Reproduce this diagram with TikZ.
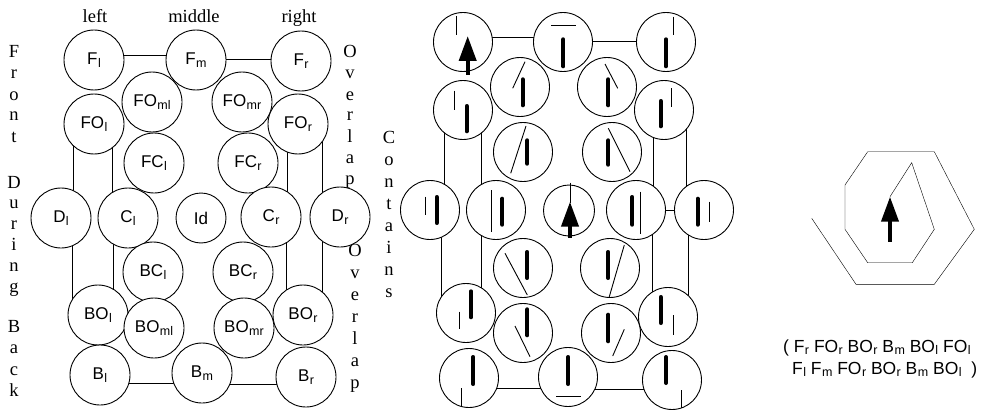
\documentclass[tikz,border=0pt]{standalone}
\usepackage{fontspec}
\setmainfont{Liberation Serif}
\newfontfamily\helv{Liberation Sans}
\usetikzlibrary{arrows.meta,backgrounds}
\newcommand\lsub[1]{\kern.4pt\raisebox{-2.7pt}{\fontsize{12.5}{13}\selectfont#1}}

\begin{document}
\begin{tikzpicture}[x=1pt, y=-1pt, line width=0.9pt,
    area/.style={circle, draw, fill=white, inner sep=0pt, minimum size=60pt,
      font=\helv\fontsize{17}{20}\selectfont},
    cell/.style={circle, draw, fill=white, inner sep=0pt, minimum size=59pt},
    word/.style={anchor=base, inner sep=0pt, font=\fontsize{18.5}{21}\selectfont},
    seq/.style={anchor=base west, inner sep=0pt, font=\helv\fontsize{17.5}{20}\selectfont},
    thinbar/.style={line width=0.9pt},
    thickbar/.style={line width=4pt, line cap=round},
    heading/.style={line width=4pt, -{Triangle[length=25pt,width=17pt]}}]

  \useasboundingbox (0,0) rectangle (983,412);

  \node [word] (hl) at (95,23) {left};
  \node [word] (hm) at (194,23) {middle};
  \node [word] (hr) at (299,23) {right};

  \foreach [count=\i] \ch in {F,r,o,n,t}
    \node [word] (front\i) at (14,37+21*\i) {\ch};
  \foreach [count=\i] \ch in {D,u,r,i,n,g}
    \node [word] (during\i) at (14,167.2+20.8*\i) {\ch};
  \foreach [count=\i] \ch in {B,a,c,k}
    \node [word] (back\i) at (14,310.5+21.5*\i) {\ch};
  \foreach [count=\i] \ch in {O,v,e,r,l,a,p}
    \node [word] (overa\i) at (350,37+21*\i) {\ch};
  \foreach [count=\i] \ch in {C,o,n,t,a,i,n,s}
    \node [word] (contains\i) at (389,121+22*\i) {\ch};
  \foreach [count=\i] \ch in {O,v,e,r,l,a,p}
    \node [word] (overb\i) at (355,234+22*\i) {\ch};

  \foreach \n/\x/\y/\t in {Fl/94/60/F\lsub{l}, Fm/196/60/F\lsub{m}, Fr/301/61/F\lsub{r},
      FOml/152/102/FO\lsub{ml}, FOmr/242/102/FO\lsub{mr}, FOl/94/124/FO\lsub{l},
      FOr/298/124/FO\lsub{r}, FCl/154/163/FC\lsub{l}, FCr/248/163/FC\lsub{r},
      Dl/61/218/D\lsub{l}, Cl/128/218/C\lsub{l}, Cr/271/217/C\lsub{r}, Dr/340/217/D\lsub{r},
      BCl/153/272/BC\lsub{l}, BCr/243/272/BC\lsub{r}, BOl/98/315/BO\lsub{l},
      BOml/154/328/BO\lsub{ml}, BOmr/244/328/BO\lsub{mr}, BOr/303/315/BO\lsub{r},
      Bl/100/375/B\lsub{l}, Bm/202/373/B\lsub{m}, Br/306/377/B\lsub{r}}
    \node [area] (v\n) at (\x,\y) {\t};
  \node [area, minimum size=50pt] (vId) at (201,218) {Id};

  \foreach \n/\x/\y in {Fl/463/42, Fm/563/42, Fr/666/42, FOml/520/87, FOmr/607/87,
      FOl/463/110, FOr/664/110, FCl/523/152, FCr/612/152, Dl/430/210, Cl/496/210,
      Cr/636/210, Dr/704/210, BCl/523/268, BCr/610/268, BOl/466/313, BOml/523/333,
      BOmr/611/333, BOr/668/317, Bl/469/378, Bm/568/377, Br/672/380}
    \node [cell] (g\n) at (\x,\y) {};
  \node [cell, minimum size=51pt] (gId) at (569,210.5) {};

  \begin{pgfonlayer}{background}
    \foreach \i/\j/\d in {Fl/Fm/5, Fm/Fr/1, Bl/Bm/-8.5, Bm/Br/-11}
      \draw ([yshift=\d]v\i.center) -- ([yshift=\d]v\i.center -| v\j.center);
    \foreach \i/\j/\d in {FOl/Dl/-21, FOl/Cl/18, Dl/BOl/11, Cl/BOl/-15,
        FOr/Cr/-11, FOr/Dr/24, Cr/BOr/15, Dr/BOr/-18}
      \draw ([xshift=\d]v\i.center) -- ([xshift=\d]v\i.center |- v\j.center);
    \foreach \i/\j/\d in {Fl/Fm/4.5, Fm/Fr/1, Cr/Dr/0, Bl/Bm/-10.3, Bm/Br/-12}
      \draw ([yshift=\d]g\i.center) -- ([yshift=\d]g\i.center -| g\j.center);
    \foreach \i/\j/\d in {FOl/Dl/-19, FOl/Cl/18, Dl/BOl/11, Cl/BOl/-15,
        FOr/Cr/-11, FOr/Dr/22.5, Cr/BOr/16, Dr/BOr/-16}
      \draw ([xshift=\d]g\i.center) -- ([xshift=\d]g\i.center |- g\j.center);
  \end{pgfonlayer}

  \foreach \x/\a/\b in {563.3/39.3/66.3, 666/39.3/66.3, 466.7/106/131.3,
      522.7/79.3/105.3, 608.3/79.3/105.3, 660.7/101/126.3, 527.3/140.3/163.7,
      608.3/140.3/164.7, 436.7/197/223, 502.3/198.7/224.7, 632.3/197/224.7,
      697.7/198.7/224.7, 527.3/252/278, 608.3/252/278, 471/291.3/317.3,
      527.3/309.3/335.3, 608.3/314.7/341.3, 660.7/297/323, 473.3/357/384,
      568.3/357/384, 666/357/383}
    \draw [thickbar] (\x,\a) -- (\x,\b);

  \foreach \xa/\ya/\xb/\yb in {456.7/16/456.7/35, 551/25/576/25, 673.3/16.7/673.3/35,
      454.3/90.7/454.3/110, 525/61.7/512.7/88.3, 605/64/617.7/88.3,
      671/88.3/671/107.3, 526/126/510.7/173.3, 608.3/128.3/630/171.7,
      425/196.7/425/215, 491/190/491/231.7, 570/182.7/570/203, 640/191.7/640/234,
      709.3/201.7/709.3/221.7, 505/253.3/527.3/295, 624.3/245/609.3/296.7,
      459/311.7/459/329.3, 515/326/530/356.7, 624.3/329.3/612.7/356,
      673.3/315/673.3/335, 461/388.3/461/406, 556/396/581/396, 681/390/681/408.3}
    \draw [thinbar] (\xa,\ya) -- (\xb,\yb);

  \draw [heading] (467.7,75) -- (467.7,36);
  \draw [heading] (570,238) -- (570,201.7);

  \draw [line join=miter] (811.7,218.3) -- (856,284.3) -- (934.3,284.3) -- (974.3,229.3)
    -- (934.3,151.7) -- (867.7,151.7) -- (845,185) -- (845,229.3) -- (867.7,262.7)
    -- (912.3,262.7) -- (934.3,229.3) -- (911.7,162.7) -- (890,196.7);
  \draw [heading] (890,241.7) -- (890,196.7);

  \node [seq] (seqa) at (783,352)
    {( F\lsub{r} FO\lsub{r} BO\lsub{r} B\lsub{m} BO\lsub{l} FO\lsub{l}};
  \node [seq] (seqb) at (792,374)
    {F\lsub{l} F\lsub{m} FO\lsub{r} BO\lsub{r} B\lsub{m} BO\lsub{l}\ \ )};

\end{tikzpicture}
\end{document}
